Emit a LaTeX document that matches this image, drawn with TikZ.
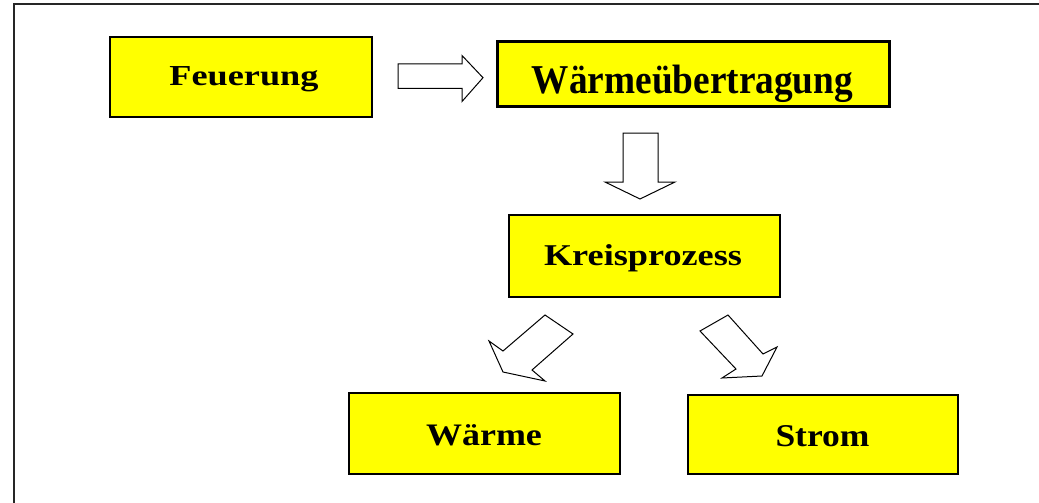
\documentclass[tikz,border=0pt]{standalone}
\usepackage{fontspec}
\setmainfont{Liberation Serif}
\usepackage{graphicx}
\definecolor{boxyellow}{RGB}{255,255,0}
\newcommand{\sqtext}[3]{\fontsize{#1}{#1}\selectfont\scalebox{#2}[1]{#3}}
\begin{document}
\begin{tikzpicture}[x=1pt,y=-1pt,
  box/.style={draw=black,line width=1.6pt,fill=boxyellow,inner sep=0pt,anchor=center},
  thickbox/.style={box,line width=2.6pt},
  arr/.style={draw=black,line width=1pt,fill=white,line join=miter},
  lbl/.style={anchor=base,inner sep=0pt,font=\bfseries},
  frame/.style={draw=black!85,line width=1.6pt}]
\useasboundingbox (0,0) rectangle (1039,503);
\draw[frame] (14,503) -- (14,4) -- (1039,4);
% boxes
\node[box,minimum width=262pt,minimum height=80pt] (feu) at (241,77) {};
\node[thickbox,minimum width=392pt,minimum height=65pt] (wue) at (693.5,74) {};
\node[box,minimum width=271pt,minimum height=82pt] (kp) at (644.5,256) {};
\node[box,minimum width=271pt,minimum height=81pt] (wae) at (484.5,433.5) {};
\node[box,minimum width=270pt,minimum height=79pt] (str) at (823,434.5) {};
% texts
\node[lbl] (feut) at (244,85) {\sqtext{29}{1.25}{Feuerung}};
\node[lbl] (wuet) at (692.5,93) {\sqtext{41}{0.91}{Wärmeübertragung}};
\node[lbl] (kpt) at (643,265) {\sqtext{30.2}{1.20}{Kreisprozess}};
\node[lbl] (waet) at (484,445) {\sqtext{31.3}{1.15}{Wärme}};
\node[lbl] (strt) at (822.5,446) {\sqtext{31.7}{1.12}{Strom}};
% block arrows
\draw[arr] (398,64) -- (462,64) -- (462,55.5) -- (483,77.7) -- (462,101.5) -- (462,88.3) -- (398,88.3) -- cycle;
\draw[arr] (623,133) -- (658,133) -- (658,182) -- (675,182) -- (640,199) -- (605,182) -- (623,182) -- cycle;
\draw[arr] (545,315) -- (573,334) -- (532,370) -- (545,381) -- (503,372) -- (489,341) -- (503,351) -- cycle;
\draw[arr] (700,331) -- (728,315) -- (763,354) -- (777,347) -- (762,376) -- (722,378) -- (736,369) -- cycle;
\end{tikzpicture}
\end{document}
